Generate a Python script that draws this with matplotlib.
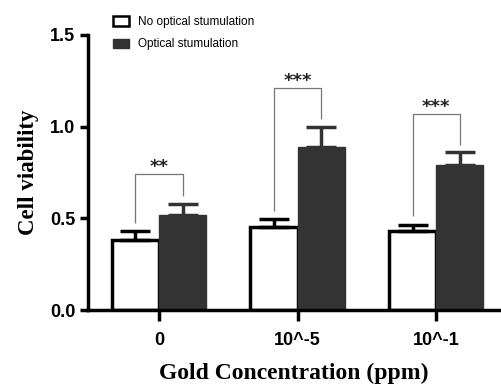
import numpy as np
import matplotlib.pyplot as plt
from matplotlib.patches import Patch

groups = ["0", "10^-5", "10^-1"]
no_stim = [0.38, 0.45, 0.43]
no_stim_err = [0.05, 0.045, 0.035]
stim = [0.52, 0.89, 0.79]
stim_err = [0.06, 0.11, 0.07]
stars = ["**", "***", "***"]

dark = "#333333"
x = np.arange(len(groups))
w = 0.34

fig = plt.figure(figsize=(5.01, 3.88), dpi=100)
ax = fig.add_axes([0.1756, 0.201, 0.822, 0.709])

ax.bar(x - w / 2, no_stim, w, color="white", edgecolor="black", linewidth=2.5,
       yerr=[[0] * 3, no_stim_err], error_kw=dict(ecolor="black", elinewidth=2.5, capsize=10.5, capthick=2.5))
ax.bar(x + w / 2, stim, w, color=dark, edgecolor=dark, linewidth=1,
       yerr=[[0] * 3, stim_err], error_kw=dict(ecolor=dark, elinewidth=2.5, capsize=10.5, capthick=2.5))

# significance brackets
for i in range(len(groups)):
    lo = no_stim[i] + no_stim_err[i] + 0.045
    ro = stim[i] + stim_err[i] + 0.04
    top = max(lo, ro) + (0.12 if i == 0 else 0.17)
    ax.plot([x[i] - w / 2, x[i] - w / 2, x[i] + w / 2, x[i] + w / 2], [lo, top, top, ro],
            color="#777777", lw=0.9, solid_capstyle="butt")
    ax.text(x[i], top - 0.01, stars[i], ha="center", va="bottom", fontsize=13,
            fontweight="bold", color="#222222", family="DejaVu Sans")

ax.set_xlim(-0.513, 2.46)
ax.set_ylim(0, 1.5)
ax.set_yticks([0, 0.5, 1.0, 1.5])
ax.set_yticklabels(["0.0", "0.5", "1.0", "1.5"])
ax.set_xticks(x)
ax.set_xticklabels(groups)
for lab in ax.get_xticklabels() + ax.get_yticklabels():
    lab.set_fontweight("bold")
    lab.set_fontsize(13)
    lab.set_family("Liberation Sans")
ax.tick_params(width=2.5, length=6, direction="out")
ax.tick_params(axis="x", pad=8, length=8)
ax.tick_params(axis="y", pad=3)
for s in ["top", "right"]:
    ax.spines[s].set_visible(False)
for s in ["left", "bottom"]:
    ax.spines[s].set_linewidth(2.5)

ax.set_ylabel("Cell viability", fontsize=16.5, fontweight="bold", family="Liberation Serif", labelpad=8)
ax.set_xlabel("Gold Concentration (ppm)", fontsize=17, fontweight="bold", family="Liberation Serif", labelpad=10)

handles = [Patch(facecolor="white", edgecolor="black", linewidth=1.8, label="No optical stumulation"),
           Patch(facecolor=dark, edgecolor=dark, label="Optical stumulation")]
fig.legend(handles=handles, loc="upper left", bbox_to_anchor=(0.205, 0.985), frameon=False,
           prop=dict(family="Liberation Sans", size=8.5), handlelength=1.3, handleheight=0.9,
           labelspacing=0.85, handletextpad=0.8)

fig.savefig("out.png", dpi=100)
